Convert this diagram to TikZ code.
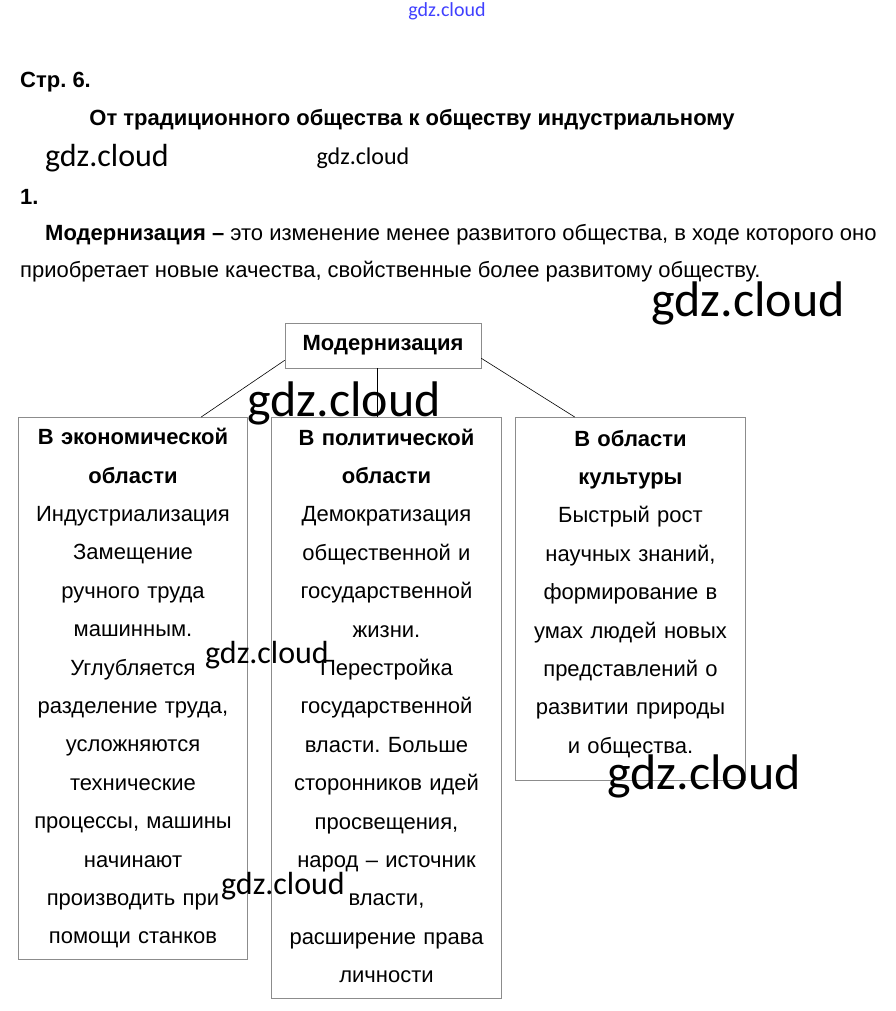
\documentclass[tikz,border=0pt]{standalone}
\usepackage{fontspec}
\setmainfont{Liberation Sans}
\newfontfamily\wmfont{Carlito}
\usetikzlibrary{positioning}
\frenchspacing

\begin{document}
\begin{tikzpicture}[x=1pt, y=-1pt,
  txt/.style={anchor=west, inner sep=0pt, font=\fontsize{22}{26}\selectfont},
  hd/.style={txt, font=\fontsize{22}{26}\selectfont\bfseries},
  frame/.style={draw=black!45, line width=0.6pt},
  area/.style={frame, anchor=north, inner sep=0pt,
               minimum width=229pt, text width=227pt, align=center,
               font=\fontsize{22}{38.4}\selectfont},
  wm/.style={inner sep=0pt, font=\wmfont\fontsize{#1}{#1}\selectfont},
  link/.style={draw=black, line width=0.6pt},
]
\useasboundingbox (0,0) rectangle (895,1011);

% header
\node[wm=20, text=blue!75] (wmtop) at (447,11) {gdz.cloud};
\node[hd] (page) at (20,82) {Стр. 6.};
\node[hd, anchor=center] (title) at (412,120) {От традиционного общества к обществу индустриальному};
\node[hd] (num) at (20,197) {1.};
\node[txt] (def1) at (45,235) {\textbf{Модернизация –} это изменение менее развитого общества, в ходе которого оно};
\node[txt] (def2) at (20,272) {приобретает новые качества, свойственные более развитому обществу.};

% scheme
\node[frame, minimum width=196pt, minimum height=45pt,
      font=\fontsize{22}{26}\selectfont\bfseries] (modern) at (383,345.5) {Модернизация};

\node[area, minimum height=542pt] (econ) at (133,417)
  {\textbf{В экономической}\\ \textbf{области}\\ Индустриализация\\ Замещение\\ ручного труда\\
   машинным.\\ Углубляется\\ разделение труда,\\ усложняются\\ технические\\
   процессы, машины\\ начинают\\ производить при\\ помощи станков};
\node[area, draw=none, minimum height=577pt] (polit) at (386.5,417)
  {\textbf{В политической}\\ \textbf{области}\\ Демократизация\\ общественной и\\ государственной\\
   жизни.\\ Перестройка\\ государственной\\ власти. Больше\\ сторонников идей\\
   просвещения,\\ народ – источник\\ власти,\\ расширение права\\ личности};
\draw[frame] (polit.north west) rectangle ([yshift=-4pt]polit.south east);
\node[area, draw=none, minimum height=353pt] (cult) at (630.5,417)
  {\textbf{В области}\\ \textbf{культуры}\\ Быстрый рост\\ научных знаний,\\ формирование в\\
   умах людей новых\\ представлений о\\ развитии природы\\ и общества.};
\draw[frame] (cult.north west) rectangle ([yshift=-10pt]cult.south east);

\draw[link] ([yshift=8pt]modern.south west) -- ([xshift=183pt]econ.north west);
\draw[link] ([xshift=-6pt]modern.south) -- ([xshift=-6pt]modern.south |- polit.north);
\draw[link] ([yshift=10pt]modern.south east) -- ([xshift=59pt]cult.north west);

% watermarks
\node[wm=32] (wm1) at (107,158) {gdz.cloud};
\node[wm=24] (wm2) at (363,158) {gdz.cloud};
\node[wm=50] (wm3) at (748,303) {gdz.cloud};
\node[wm=50] (wm4) at (344,403) {gdz.cloud};
\node[wm=32] (wm5) at (267,655) {gdz.cloud};
\node[wm=50] (wm6) at (704,776) {gdz.cloud};
\node[wm=32] (wm7) at (283,886) {gdz.cloud};
\end{tikzpicture}
\end{document}
